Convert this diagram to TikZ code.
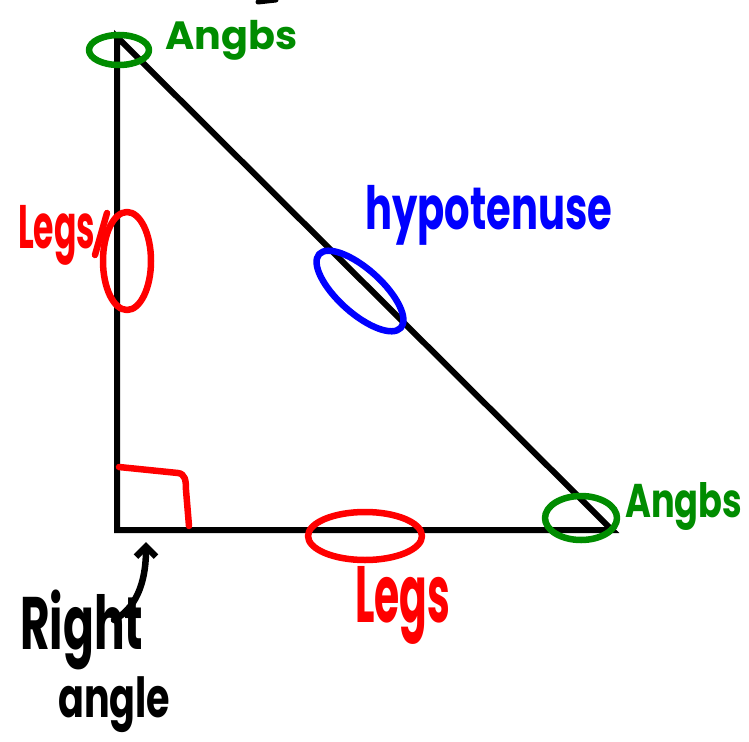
\documentclass[tikz,border=0pt]{standalone}
\usepackage{fontspec}
\setmainfont{Poppins}
\usepackage{graphicx}
\usetikzlibrary{arrows.meta}
\definecolor{hgreen}{RGB}{0,140,0}
\definecolor{hred}{RGB}{255,0,0}
\definecolor{hblue}{RGB}{0,0,255}
\newcommand{\fitlabel}[3]{\resizebox*{#1pt}{#2pt}{\bfseries #3}}
\begin{document}
\begin{tikzpicture}[x=1pt,y=-1pt,
  edge/.style={line width=6pt,line join=miter,line cap=butt},
  pen/.style={line width=6.5pt,line cap=round,line join=round},
  lab/.style={inner sep=0pt,anchor=north west}]
\useasboundingbox (0,0) rectangle (749,741);
% triangle
\coordinate (A) at (117,37);
\coordinate (B) at (117,530);
\coordinate (C) at (612,530);
\draw[edge] (A) -- (B) -- (C) -- cycle;
% right angle marker
\draw[pen,hred] (119,467) -- (178,473) .. controls (185,474) and (186,480) .. (186,490) -- (189,526);
% green angle marks
\draw[pen,hgreen] (119,50) ellipse [x radius=30, y radius=15];
\draw[pen,hgreen] (581,518) ellipse [x radius=36, y radius=22];
\node[lab,hgreen] (angtop) at (165,20) {\fitlabel{132}{40}{Angbs}};
\node[lab,hgreen] (angright) at (625,482) {\fitlabel{117}{48}{Angbs}};
% red legs
\draw[pen,hred] (127,261) ellipse [x radius=24, y radius=49];
\node[lab,hred] (legsleft) at (18,205) {\fitlabel{77}{60}{Legs}};
\draw[pen,hred] (95,255) -- (107,213);
\draw[pen,hred] (365,536) ellipse [x radius=57, y radius=24];
\node[lab,hred] (legsbottom) at (355,566) {\fitlabel{95}{78}{Legs}};
% blue hypotenuse
\draw[pen,hblue] (360,291) ellipse [x radius=55, y radius=22, rotate=-42];
\node[lab,hblue] (hyp) at (365,185) {\fitlabel{247}{60}{hypotenuse}};
% right angle label
\node[lab,black] (right) at (20,590) {\fitlabel{123}{80}{Right}};
\node[lab,black] (angle) at (58,676) {\fitlabel{112}{56}{angle}};
\coordinate (tipR) at (146,542);
\coordinate (startR) at (114,620);
\draw[pen,-{Straight Barb[length=10pt,width=20pt]}] (startR) .. controls (140,606) and (146,575) .. (tipR);
% small cut-off stroke at top
\draw[pen,black,line width=5pt] (258,2) -- (276,0);
\end{tikzpicture}
\end{document}
